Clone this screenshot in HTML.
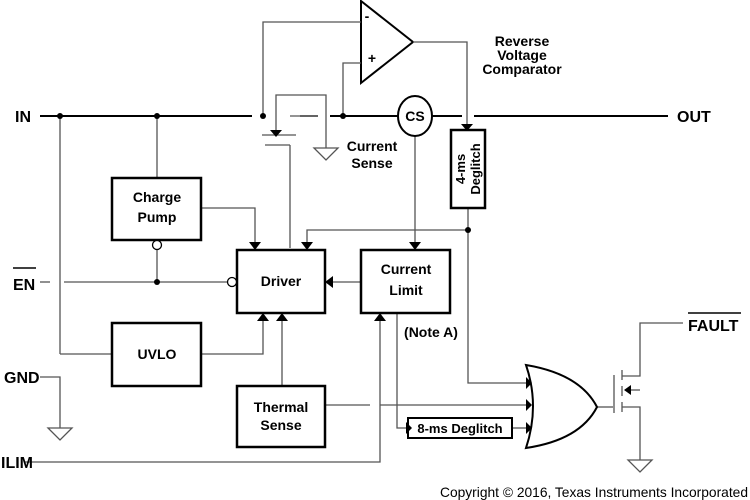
<!DOCTYPE html>
<html><head><style>
html,body{margin:0;padding:0;background:#fff;}
svg{display:block;font-family:"Liberation Sans",Arial,sans-serif;}
.b{font-weight:bold;fill:#000;}
</style></head><body>
<svg width="750" height="500" viewBox="0 0 750 500" xmlns="http://www.w3.org/2000/svg">
<g fill="none" stroke="#000" stroke-width="2">
 <line x1="40" y1="116" x2="252" y2="116"/>
 <line x1="300" y1="116" x2="318" y2="116" stroke-width="1.5"/>
 <line x1="330" y1="116" x2="398" y2="116"/>
 <line x1="432" y1="116" x2="462" y2="116"/>
 <line x1="474" y1="116" x2="668" y2="116"/>
 <polygon points="361,1 361,83 413,42"/>
</g>
<g fill="none" stroke="#555" stroke-width="1.3">
 <polyline points="263,116 263,22 361,22"/>
 <polyline points="343,116 343,63 361,63"/>
 <polyline points="413,42 467,42 467,125"/>
 <polyline points="276,130 276,95 326,95 326,148"/>
 <line x1="290" y1="116" x2="318" y2="116"/>
 <line x1="262" y1="135" x2="296" y2="135"/>
 <line x1="265" y1="145" x2="290" y2="145"/>
 <line x1="290" y1="145" x2="290" y2="248"/>
 <polygon points="314,148 338,148 326,160"/>
 <line x1="157" y1="116" x2="157" y2="178"/>
 <polyline points="201,208 255,208 255,248"/>
 <line x1="157" y1="250" x2="157" y2="282"/>
 <line x1="40" y1="282" x2="50" y2="282"/>
 <line x1="64" y1="282" x2="228" y2="282"/>
 <polyline points="201,354 263,354 263,315"/>
 <line x1="282" y1="386" x2="282" y2="315"/>
 <line x1="60" y1="116" x2="60" y2="354"/>
 <line x1="60" y1="354" x2="112" y2="354"/>
 <polyline points="40,377 60,377 60,428"/>
 <polygon points="48,428 72,428 60,440"/>
 <polyline points="25,462 380,462 380,315"/>
 <polyline points="397,313 397,428 406,428"/>
 <line x1="512" y1="428" x2="526" y2="428"/>
 <polyline points="468,208 468,383 526,383"/>
 <line x1="325" y1="405" x2="370" y2="405"/>
 <line x1="380" y1="405" x2="526" y2="405"/>
 <polyline points="468,230 307,230 307,248"/>
 <line x1="415" y1="136" x2="415" y2="248"/>
 <line x1="325" y1="282" x2="360" y2="282"/>
 <line x1="597" y1="407" x2="613" y2="407"/>
 <line x1="614" y1="375" x2="614" y2="413"/>
 <line x1="622" y1="370" x2="622" y2="380"/>
 <line x1="622" y1="386" x2="622" y2="396"/>
 <line x1="622" y1="402" x2="622" y2="412"/>
 <polyline points="622,376 640,376 640,323 683,323"/>
 <polyline points="622,407 640,407 640,460"/>
 <line x1="625" y1="390" x2="640" y2="390"/>
 <polygon points="628,460 652,460 640,472"/>
</g>
<g fill="#fff" stroke="#000" stroke-width="2.5">
 <rect x="112" y="178" width="89" height="62"/>
 <rect x="237" y="250" width="88" height="63"/>
 <rect x="361" y="250" width="89" height="63"/>
 <rect x="112" y="323" width="89" height="63"/>
 <rect x="237" y="386" width="88" height="61"/>
 <rect x="451" y="130" width="34" height="78"/>
 <rect x="408" y="418" width="104" height="20" stroke-width="2"/>
 <ellipse cx="415" cy="116" rx="17" ry="20" stroke-width="2"/>
 <path d="M526,365 Q540,406 526,448 Q580,440 597,407 Q580,374 526,365 Z" stroke-width="2"/>
</g>
<g fill="#000">
 <circle cx="60" cy="116" r="3"/><circle cx="157" cy="116" r="3"/>
 <circle cx="263" cy="116" r="3"/><circle cx="343" cy="116" r="3"/>
 <circle cx="157" cy="282" r="3"/><circle cx="468" cy="230" r="3"/>
 <polygon points="461,124 473,124 467,131"/>
 <polygon points="270,130 282,130 276,137"/>
 <polygon points="249,242 261,242 255,250"/>
 <polygon points="301,242 313,242 307,250"/>
 <polygon points="409,242 421,242 415,250"/>
 <polygon points="257,321 269,321 263,313"/>
 <polygon points="276,321 288,321 282,313"/>
 <polygon points="374,321 386,321 380,313"/>
 <polygon points="333,276 333,288 325,282"/>
 <polygon points="406,422 406,434 412,428"/>
 <polygon points="526,377 526,389 532,383"/>
 <polygon points="526,399 526,411 532,405"/>
 <polygon points="526,422 526,434 532,428"/>
 <polygon points="624,390 631,385 631,395"/>
</g>
<g fill="#fff" stroke="#000" stroke-width="1.3">
 <circle cx="157" cy="245" r="4.5"/>
 <circle cx="232" cy="282" r="4.5"/>
</g>
<g class="b" font-size="16">
 <text x="15" y="122">IN</text>
 <text x="677" y="122">OUT</text>
 <text x="13" y="290">EN</text>
 <text x="4" y="383">GND</text>
 <text x="1" y="468">ILIM</text>
 <text x="688" y="331">FAULT</text>
</g>
<line x1="13" y1="268" x2="36" y2="268" stroke="#000" stroke-width="1.5"/>
<line x1="688" y1="313" x2="741" y2="313" stroke="#000" stroke-width="1.5"/>
<g class="b" font-size="14" text-anchor="middle" style="font-family:'Liberation Sans Narrow','Liberation Sans',sans-serif">
 <text x="367" y="21">-</text>
 <text x="372" y="63">+</text>
 <text x="522" y="46">Reverse</text>
 <text x="522" y="60">Voltage</text>
 <text x="522" y="74">Comparator</text>
 <text x="415" y="121">CS</text>
 <text x="372" y="151">Current</text>
 <text x="372" y="168">Sense</text>
 <text x="157" y="202">Charge</text>
 <text x="157" y="222">Pump</text>
 <text x="281" y="286">Driver</text>
 <text x="406" y="274">Current</text>
 <text x="406" y="295">Limit</text>
 <text x="157" y="359">UVLO</text>
 <text x="281" y="412">Thermal</text>
 <text x="281" y="430">Sense</text>
 <text x="431" y="337">(Note A)</text>
 <text x="460" y="433" font-size="13">8-ms Deglitch</text>
 <text transform="translate(465,169) rotate(-90)" font-size="13">4-ms</text>
 <text transform="translate(480,169) rotate(-90)" font-size="13">Deglitch</text>
</g>
<text x="748" y="497" font-size="14" text-anchor="end" fill="#000" textLength="308" lengthAdjust="spacingAndGlyphs">Copyright © 2016, Texas Instruments Incorporated</text>
</svg>
</body></html>
